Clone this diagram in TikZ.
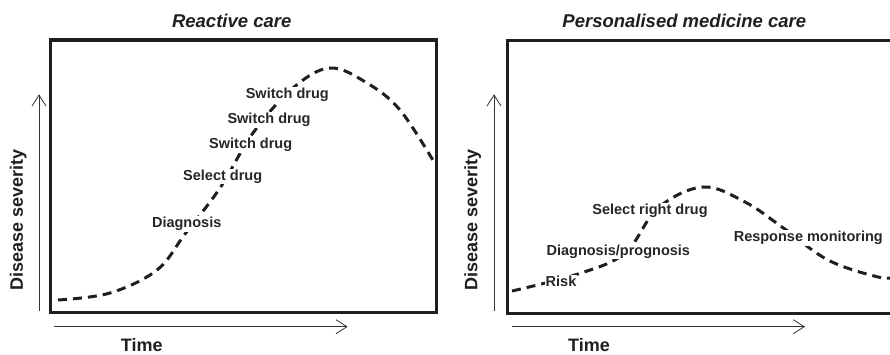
\documentclass[tikz,border=0pt]{standalone}
\usepackage{fontspec}
\setmainfont{Liberation Sans}
\usetikzlibrary{arrows.meta}
\begin{document}
\begin{tikzpicture}[x=1pt,y=-1pt,
	frame/.style={line width=3.2pt,color=black!88},
	axis/.style={line width=0.8pt,color=black!80,-{Straight Barb[length=11pt,width=14pt]}},
	course/.style={line width=3pt,color=black!88,dash pattern=on 9pt off 6pt},
	event/.style={rectangle,fill=white,inner sep=1pt,font=\bfseries\fontsize{14.5}{16}\selectfont,text=black!85},
	heading/.style={rectangle,inner sep=0pt,font=\bfseries\itshape\fontsize{18.5}{20}\selectfont,text=black!88},
	axlabel/.style={rectangle,inner sep=0pt,font=\bfseries\fontsize{18}{20}\selectfont,text=black!88}]
	\useasboundingbox (0,0) rectangle (890,355);
	\clip (0,0) rectangle (890,355);
	
	%reactive care
	\node[heading](titleA) at (231.7,20.7) {Reactive care};
	\draw[frame] (50.7,40) rectangle (436.7,312.7);
	\draw[course] plot[smooth,tension=0.6] coordinates {(58,300) (110,293) (157,270) (185,234) (220,188) (253,133) (293,88) (330,68) (367,83) (400,110) (434,162)};
	\node[event](switchC) at (287.3,95) {Switch drug};
	\node[event](switchB) at (269,120) {Switch drug};
	\node[event](switchA) at (250.7,145) {Switch drug};
	\node[event](selectA) at (222.7,176.7) {Select drug};
	\node[event](diagA) at (186.7,224) {Diagnosis};
	
	%personalised care
	\node[heading](titleB) at (684.3,20.7) {Personalised medicine care};
	\draw[frame] (507.7,40.7) rectangle (895,313.3);
	\draw[course] plot[smooth,tension=0.6] coordinates {(512,291) (578,274) (625,253) (658,208) (703,187) (745,202) (782,227) (828,260) (878,277) (895,277)};
	\node[event](selectB) at (650,210.7) {Select right drug};
	\node[event](monitor) at (808.3,238) {Response monitoring};
	\node[event](diagB) at (618.3,251.7) {Diagnosis/prognosis};
	\node[event](risk) at (561,281) {Risk};
	
	%axes
	\coordinate (originA) at (39,310.7);
	\coordinate (topA) at (39,94.3);
	\coordinate (startA) at (54,326.7);
	\coordinate (endA) at (347.7,326.7);
	\draw[axis] (originA) -- (topA);
	\draw[axis] (startA) -- (endA);
	\coordinate (originB) at (494,311);
	\coordinate (topB) at (494,94.3);
	\coordinate (startB) at (511.7,326.7);
	\coordinate (endB) at (805,326.7);
	\draw[axis] (originB) -- (topB);
	\draw[axis] (startB) -- (endB);
	
	%labels
	\node[axlabel,rotate=90](sevA) at (18.3,220) {Disease severity};
	\node[axlabel](timeA) at (141.7,344.8) {Time};
	\node[axlabel,rotate=90](sevB) at (472.7,220) {Disease severity};
	\node[axlabel](timeB) at (589,344.8) {Time};
\end{tikzpicture}
\end{document}
